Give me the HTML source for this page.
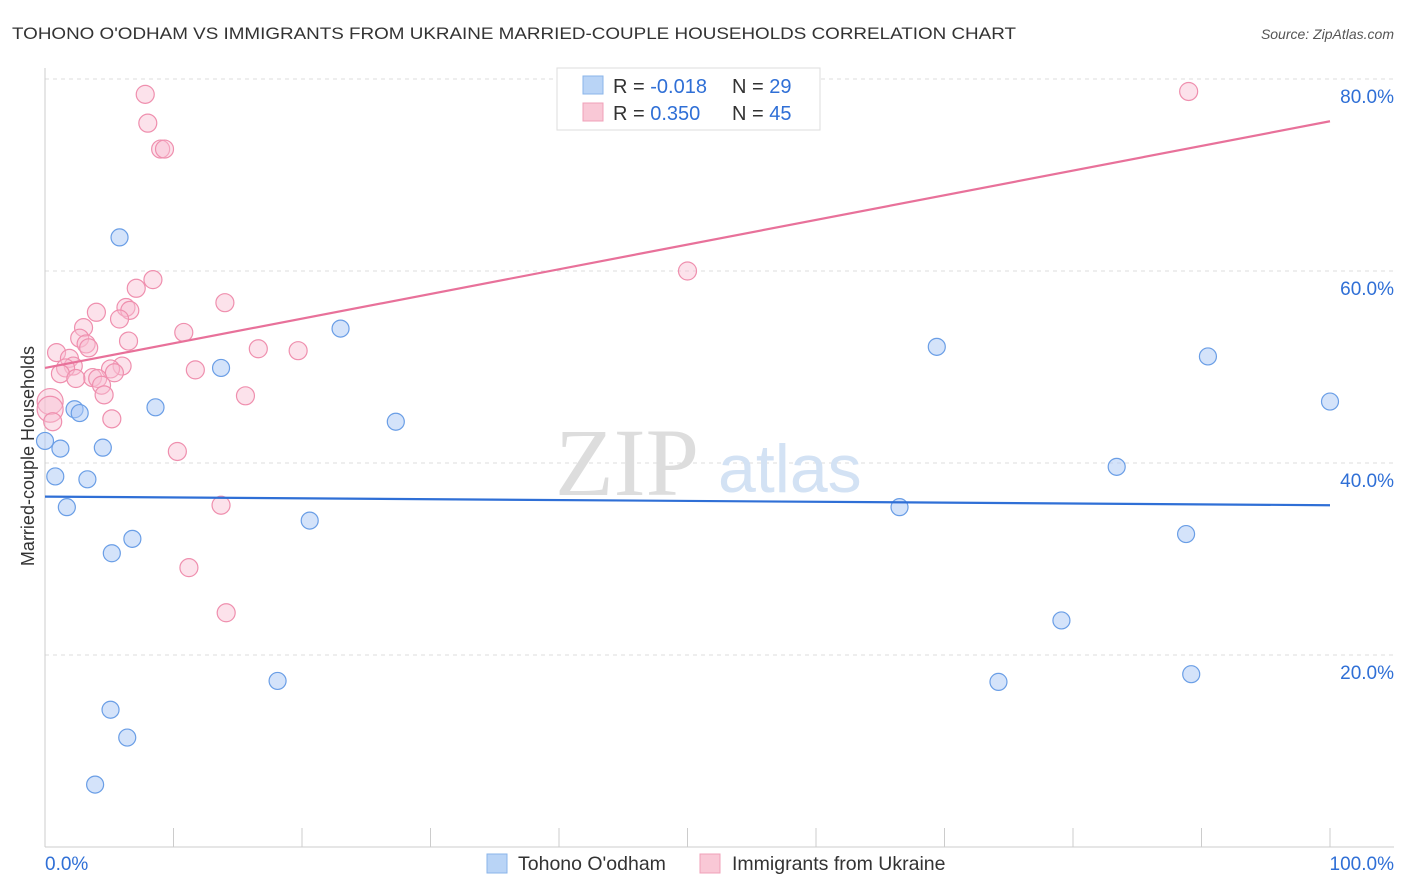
<!DOCTYPE html>
<html><head><meta charset="utf-8">
<style>
body{margin:0;background:#fff;font-family:"Liberation Sans",sans-serif;}
svg{display:block}
</style></head>
<body>
<svg id="chart" width="1406" height="892">
<text x="12" y="39" font-size="17" fill="#333" textLength="1004" lengthAdjust="spacingAndGlyphs">TOHONO O'ODHAM VS IMMIGRANTS FROM UKRAINE MARRIED-COUPLE HOUSEHOLDS CORRELATION CHART</text>
<text x="1394" y="39" font-size="14" fill="#555" font-style="italic" text-anchor="end">Source: ZipAtlas.com</text>
<text x="0" y="0" transform="translate(34,456) rotate(-90)" font-size="18" fill="#333" text-anchor="middle">Married-couple Households</text>
<g id="grid"></g>
<g id="axes"></g>
<text x="555" y="495" font-size="96" fill="#ddd" font-family="Liberation Serif,serif">ZIP</text>
<text x="718" y="492" font-size="68" fill="#d3e2f4">atlas</text>
<g id="points"></g>
<g id="lines"></g>
<g>
<rect x="557" y="68" width="263" height="62" fill="#fff" stroke="#ddd"/>
<rect x="583" y="76" width="20" height="18" fill="#b9d4f6" stroke="#8ab4ea"/>
<rect x="583" y="103" width="20" height="18" fill="#f9c8d6" stroke="#f0a0b8"/>
<text x="613" y="93" font-size="20" fill="#333">R = <tspan fill="#2f6fd6">-0.018</tspan></text>
<text x="732" y="93" font-size="20" fill="#333">N = <tspan fill="#2f6fd6">29</tspan></text>
<text x="613" y="120" font-size="20" fill="#333">R = <tspan fill="#2f6fd6"> 0.350</tspan></text>
<text x="732" y="120" font-size="20" fill="#333">N = <tspan fill="#2f6fd6">45</tspan></text>
</g>
<g>
<rect x="487" y="854" width="20" height="19" fill="#b9d4f6" stroke="#8ab4ea"/>
<text x="518" y="870" font-size="19.5" fill="#333">Tohono O'odham</text>
<rect x="700" y="854" width="20" height="19" fill="#f9c8d6" stroke="#f0a0b8"/>
<text x="732" y="870" font-size="19.5" fill="#333">Immigrants from Ukraine</text>
</g>
<text x="45" y="870" font-size="19" fill="#2f6fd6">0.0%</text>
<text x="1394" y="870" font-size="19" fill="#2f6fd6" text-anchor="end">100.0%</text>
</svg>
<script>
const yTicks=[20,40,60,80];
const yTickLabels=["20.0%","40.0%","60.0%","80.0%"];
const xTicks=[0,10,20,30,40,50,60,70,80,90,100];
const blueX=[0,1.2,0.8,1.7,2.3,2.7,3.3,4.5,5.8,5.2,6.8,5.1,6.4,3.9,8.6,13.7,18.1,20.6,23.0,27.3,66.5,69.4,74.2,79.1,83.4,88.8,89.2,90.5,100];
const blueY=[42.3,41.5,38.6,35.4,45.6,45.2,38.3,41.6,63.5,30.6,32.1,14.3,11.4,6.5,45.8,49.9,17.3,34.0,54.0,44.3,35.4,52.1,17.2,23.6,39.6,32.6,18.0,51.1,46.4];
const pinkX=[7.8,8.0,9.0,9.3,89.0,50.0,8.4,7.1,14.0,6.3,6.6,4.0,5.8,3.0,10.8,2.7,6.5,3.2,3.4,16.6,19.7,0.9,1.9,2.2,6.0,1.6,5.1,11.7,1.2,5.4,3.7,2.4,4.1,4.4,4.6,15.6,0.4,0.4,5.2,0.6,10.3,13.7,11.2,14.1];
const pinkY=[78.4,75.4,72.7,72.7,78.7,60.0,59.1,58.2,56.7,56.2,55.9,55.7,55.0,54.1,53.6,53.0,52.7,52.4,52.0,51.9,51.7,51.5,50.9,50.1,50.1,49.9,49.8,49.7,49.3,49.4,48.9,48.8,48.8,48.1,47.1,47.0,46.4,45.6,44.6,44.3,41.2,35.6,29.1,24.4];
const pinkR=[9,9,9,9,9,9,9,9,9,9,9,9,9,9,9,9,9,9,9,9,9,9,9,9,9,9,9,9,9,9,9,9,9,9,9,9,13,13,9,9,9,9,9,9];
const blueTrend=[36.5,35.6];
const pinkTrend=[49.9,75.6];
const NS="http://www.w3.org/2000/svg";
const X=v=>45+v*12.85, Y=v=>847-v*9.6;
function mk(tag,attrs,parent){const e=document.createElementNS(NS,tag);for(const k in attrs)e.setAttribute(k,attrs[k]);parent.appendChild(e);return e;}
const grid=document.getElementById('grid'),axes=document.getElementById('axes');
yTicks.forEach((t,i)=>{
  const l=mk('line',{x1:45,x2:1394,y1:Y(t),y2:Y(t),stroke:'#ddd','stroke-dasharray':'4,4'},grid);
  
  
  const tx=mk('text',{x:1394,y:Y(t)+24,'font-size':19,fill:'#2f6fd6','text-anchor':'end'},axes);
  tx.textContent=yTickLabels[i];
  
  
});
mk('line',{x1:45,x2:45,y1:68,y2:847,stroke:'#ccc'},axes);
mk('line',{x1:45,x2:1394,y1:847,y2:847,stroke:'#ccc'},axes);
xTicks.forEach(t=>{
  const l=mk('line',{x1:X(t),x2:X(t),y1:828,y2:847,stroke:'#ccc'},axes);
  
  
});
const pts=document.getElementById('points');
blueX.forEach((x,i)=>{
  const c=mk('circle',{cx:X(x),cy:Y(blueY[i]),r:8.5,fill:'rgba(170,200,245,0.5)',stroke:'#6a9ee6','stroke-width':1.2},pts);
  
  
});
pinkX.forEach((x,i)=>{
  const c=mk('circle',{cx:X(x),cy:Y(pinkY[i]),r:pinkR[i],fill:'rgba(248,190,210,0.45)',stroke:'#ef8fae','stroke-width':1.2},pts);
  
  
});
const ln=document.getElementById('lines');
const b=mk('line',{x1:X(0),x2:X(100),y1:Y(blueTrend[0]),y2:Y(blueTrend[1]),stroke:'#2f6fd6','stroke-width':2.2},ln);


const p=mk('line',{x1:X(0),x2:X(100),y1:Y(pinkTrend[0]),y2:Y(pinkTrend[1]),stroke:'#e8719a','stroke-width':2.2},ln);


</script>
</body></html>
